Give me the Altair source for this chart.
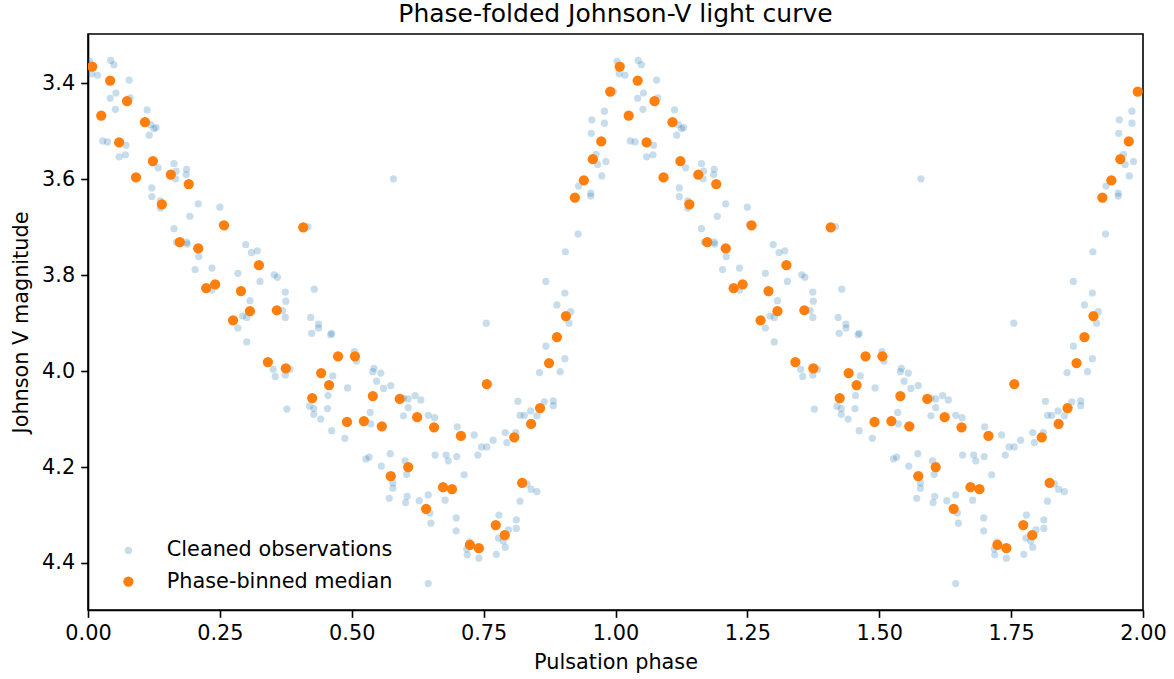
import altair as alt
import pandas as pd

# Cleaned observations (phase in [0,1), Johnson V magnitude)
obs_phase = [
    0.003, 0.043, 0.049, 0.007, 0.018, 0.078, 0.053, 0.042, 0.080, 0.052,
    0.112, 0.119, 0.129, 0.125, 0.116, 0.028, 0.037, 0.072, 0.059, 0.071,
    0.133, 0.163, 0.167, 0.166, 0.187, 0.186, 0.121, 0.121, 0.137, 0.137,
    0.209, 0.193, 0.250, 0.254, 0.163, 0.168, 0.187, 0.188, 0.210, 0.203,
    0.235, 0.235, 0.299, 0.310, 0.321, 0.284, 0.326, 0.307, 0.293, 0.301,
    0.284, 0.353, 0.359, 0.374, 0.375, 0.429, 0.369, 0.374, 0.422, 0.437,
    0.437, 0.579, 0.417, 0.301, 0.424, 0.460, 0.462, 0.505, 0.509, 0.351,
    0.355, 0.374, 0.383, 0.377, 0.464, 0.492, 0.455, 0.420, 0.428, 0.428,
    0.454, 0.441, 0.462, 0.487, 0.542, 0.540, 0.555, 0.547, 0.560, 0.574,
    0.598, 0.607, 0.620, 0.631, 0.607, 0.598, 0.645, 0.657, 0.535, 0.536,
    0.527, 0.533, 0.556, 0.573, 0.578, 0.578, 0.571, 0.601, 0.604, 0.605,
    0.602, 0.628, 0.645, 0.648, 0.650, 0.677, 0.658, 0.679, 0.683, 0.645,
    0.755, 0.700, 0.732, 0.699, 0.713, 0.746, 0.756, 0.739, 0.768, 0.791,
    0.811, 0.794, 0.815, 0.819, 0.827, 0.839, 0.851, 0.865, 0.882, 0.882,
    0.832, 0.840, 0.851, 0.819, 0.698, 0.698, 0.779, 0.812, 0.812, 0.797,
    0.778, 0.787, 0.791, 0.774, 0.723, 0.718, 0.719, 0.741, 0.868, 0.904,
    0.856, 0.895, 0.912, 0.915, 0.904, 0.889, 0.868, 0.905, 0.929, 0.923,
    0.953, 0.953, 0.930, 0.974, 0.963, 0.966, 0.982, 0.954, 0.955, 0.979,
    0.979, 0.996,
]
obs_mag = [
    3.354, 3.352, 3.361, 3.380, 3.383, 3.393, 3.420, 3.431, 3.430, 3.454,
    3.455, 3.486, 3.492, 3.494, 3.508, 3.520, 3.522, 3.529, 3.553, 3.549,
    3.576, 3.567, 3.583, 3.599, 3.579, 3.590, 3.618, 3.636, 3.645, 3.660,
    3.651, 3.677, 3.658, 3.694, 3.703, 3.731, 3.731, 3.735, 3.761, 3.788,
    3.785, 3.831, 3.736, 3.753, 3.749, 3.796, 3.813, 3.853, 3.885, 3.888,
    3.910, 3.799, 3.804, 3.835, 3.854, 3.829, 3.874, 3.888, 3.888, 3.902,
    3.910, 3.599, 3.699, 3.939, 3.921, 3.924, 3.921, 3.959, 3.979, 3.996,
    4.011, 4.008, 3.996, 4.079, 4.010, 4.035, 4.051, 4.073, 4.078, 4.090,
    4.078, 4.100, 4.124, 4.140, 3.994, 4.001, 4.004, 4.021, 4.036, 4.030,
    4.056, 4.058, 4.051, 4.060, 4.076, 4.093, 4.092, 4.097, 4.086, 4.110,
    4.183, 4.179, 4.198, 4.172, 4.233, 4.244, 4.265, 4.187, 4.215, 4.261,
    4.274, 4.270, 4.258, 4.296, 4.317, 4.269, 4.175, 4.175, 4.187, 4.443,
    3.900, 4.116, 4.133, 4.178, 4.216, 4.158, 4.158, 4.175, 4.144, 4.128,
    4.128, 4.149, 4.063, 4.092, 4.092, 4.083, 4.093, 4.064, 4.062, 4.072,
    4.235, 4.246, 4.251, 4.271, 4.306, 4.333, 4.300, 4.310, 4.328, 4.331,
    4.348, 4.354, 4.367, 4.382, 4.356, 4.371, 4.383, 4.390, 3.948, 3.974,
    4.003, 4.001, 3.900, 3.876, 3.837, 3.862, 3.813, 3.751, 3.714, 3.640,
    3.629, 3.635, 3.614, 3.593, 3.548, 3.569, 3.563, 3.504, 3.476, 3.458,
    3.483, 3.417,
]

# Phase-binned medians
med_phase = [
    0.008, 0.025, 0.042, 0.059, 0.074, 0.091, 0.108, 0.123, 0.140, 0.157,
    0.174, 0.191, 0.209, 0.224, 0.241, 0.258, 0.275, 0.290, 0.307, 0.324,
    0.341, 0.358, 0.375, 0.408, 0.425, 0.442, 0.457, 0.474, 0.491, 0.506,
    0.523, 0.540, 0.557, 0.574, 0.591, 0.607, 0.624, 0.641, 0.656, 0.673,
    0.690, 0.707, 0.724, 0.741, 0.756, 0.773, 0.790, 0.808, 0.823, 0.840,
    0.857, 0.874, 0.889, 0.906, 0.923, 0.940, 0.957, 0.973, 0.990,
]
med_mag = [
    3.365, 3.467, 3.394, 3.523, 3.437, 3.596, 3.481, 3.562, 3.652, 3.590,
    3.731, 3.610, 3.744, 3.827, 3.819, 3.696, 3.894, 3.833, 3.875, 3.779,
    3.981, 3.873, 3.994, 3.700, 4.056, 4.004, 4.029, 3.969, 4.106, 3.969,
    4.104, 4.052, 4.115, 4.219, 4.058, 4.200, 4.096, 4.287, 4.117, 4.242,
    4.246, 4.135, 4.362, 4.369, 4.027, 4.321, 4.342, 4.138, 4.233, 4.110,
    4.077, 3.983, 3.929, 3.885, 3.638, 3.602, 3.558, 3.521, 3.417,
]

x_ticks = [0.0, 0.25, 0.5, 0.75, 1.0, 1.25, 1.5, 1.75, 2.0]
y_ticks = [3.4, 3.6, 3.8, 4.0, 4.2, 4.4]

OBS = "Cleaned observations"
MED = "Phase-binned median"

# each phase is shown twice (two cycles)
obs_rows = [{"phase": p + c, "mag": m, "series": OBS}
            for c in (0, 1) for p, m in zip(obs_phase, obs_mag)]
med_rows = [{"phase": p + c, "mag": m, "series": MED}
            for c in (0, 1) for p, m in zip(med_phase, med_mag)]
obs_df = pd.DataFrame(obs_rows)
med_df = pd.DataFrame(med_rows)

FONT = "DejaVu Sans"
FS = 20.8

x_enc = alt.X("phase:Q",
              scale=alt.Scale(domain=[0, 2], nice=False, zero=False),
              axis=alt.Axis(title="Pulsation phase", values=x_ticks, format=".2f",
                            labelFlush=False))
y_enc = alt.Y("mag:Q",
              scale=alt.Scale(domain=[3.297, 4.498], reverse=True, nice=False, zero=False),
              axis=alt.Axis(title="Johnson V magnitude", values=y_ticks, format=".1f"))

legend = alt.Legend(
    title=None, orient="none", legendX=30, legendY=506,
    labelFont=FONT, labelFontSize=FS, labelColor="black", labelLimit=400,
    symbolType="circle", labelOffset=28, rowPadding=9.2, padding=0,
    symbolStrokeWidth=0,
)
color_enc = alt.Color("series:N",
                      scale=alt.Scale(domain=[OBS, MED], range=["#1f77b4", "#ff7f0e"]),
                      legend=legend)
opacity_enc = alt.Opacity("series:N",
                          scale=alt.Scale(domain=[OBS, MED], range=[0.25, 1.0]),
                          legend=legend)
size_enc = alt.Size("series:N",
                    scale=alt.Scale(domain=[OBS, MED], range=[52, 105]),
                    legend=legend)

obs_layer = alt.Chart(obs_df).mark_circle(clip=True, strokeWidth=0).encode(
    x=x_enc, y=y_enc, color=color_enc, opacity=opacity_enc, size=size_enc)
med_layer = alt.Chart(med_df).mark_circle(clip=True, strokeWidth=0).encode(
    x=x_enc, y=y_enc, color=color_enc, opacity=opacity_enc, size=size_enc)

chart = alt.layer(obs_layer, med_layer).properties(
    width=1055, height=576,
    autosize=alt.AutoSizeParams(type="none"),
    padding={"left": 88, "top": 34, "right": 31, "bottom": 69},
    title=alt.Title("Phase-folded Johnson-V light curve", fontSize=25, font=FONT,
                    fontWeight="normal", color="black", anchor="middle",
                    baseline="alphabetic", offset=-13),
).configure_view(
    stroke="black", strokeWidth=1.6
).configure_axis(
    labelFont=FONT, labelFontSize=FS, labelColor="black",
    titleFont=FONT, titleFontSize=FS, titleFontWeight="normal", titleColor="black",
    grid=False, domainColor="black", domainWidth=1.6,
    tickColor="black", tickWidth=1.6, tickSize=7.3, labelPadding=6,
).configure_axisX(
    titlePadding=9.5
).configure_axisY(
    titlePadding=10
)

chart.save("out.html", embed_options={"renderer": "svg", "actions": False})
